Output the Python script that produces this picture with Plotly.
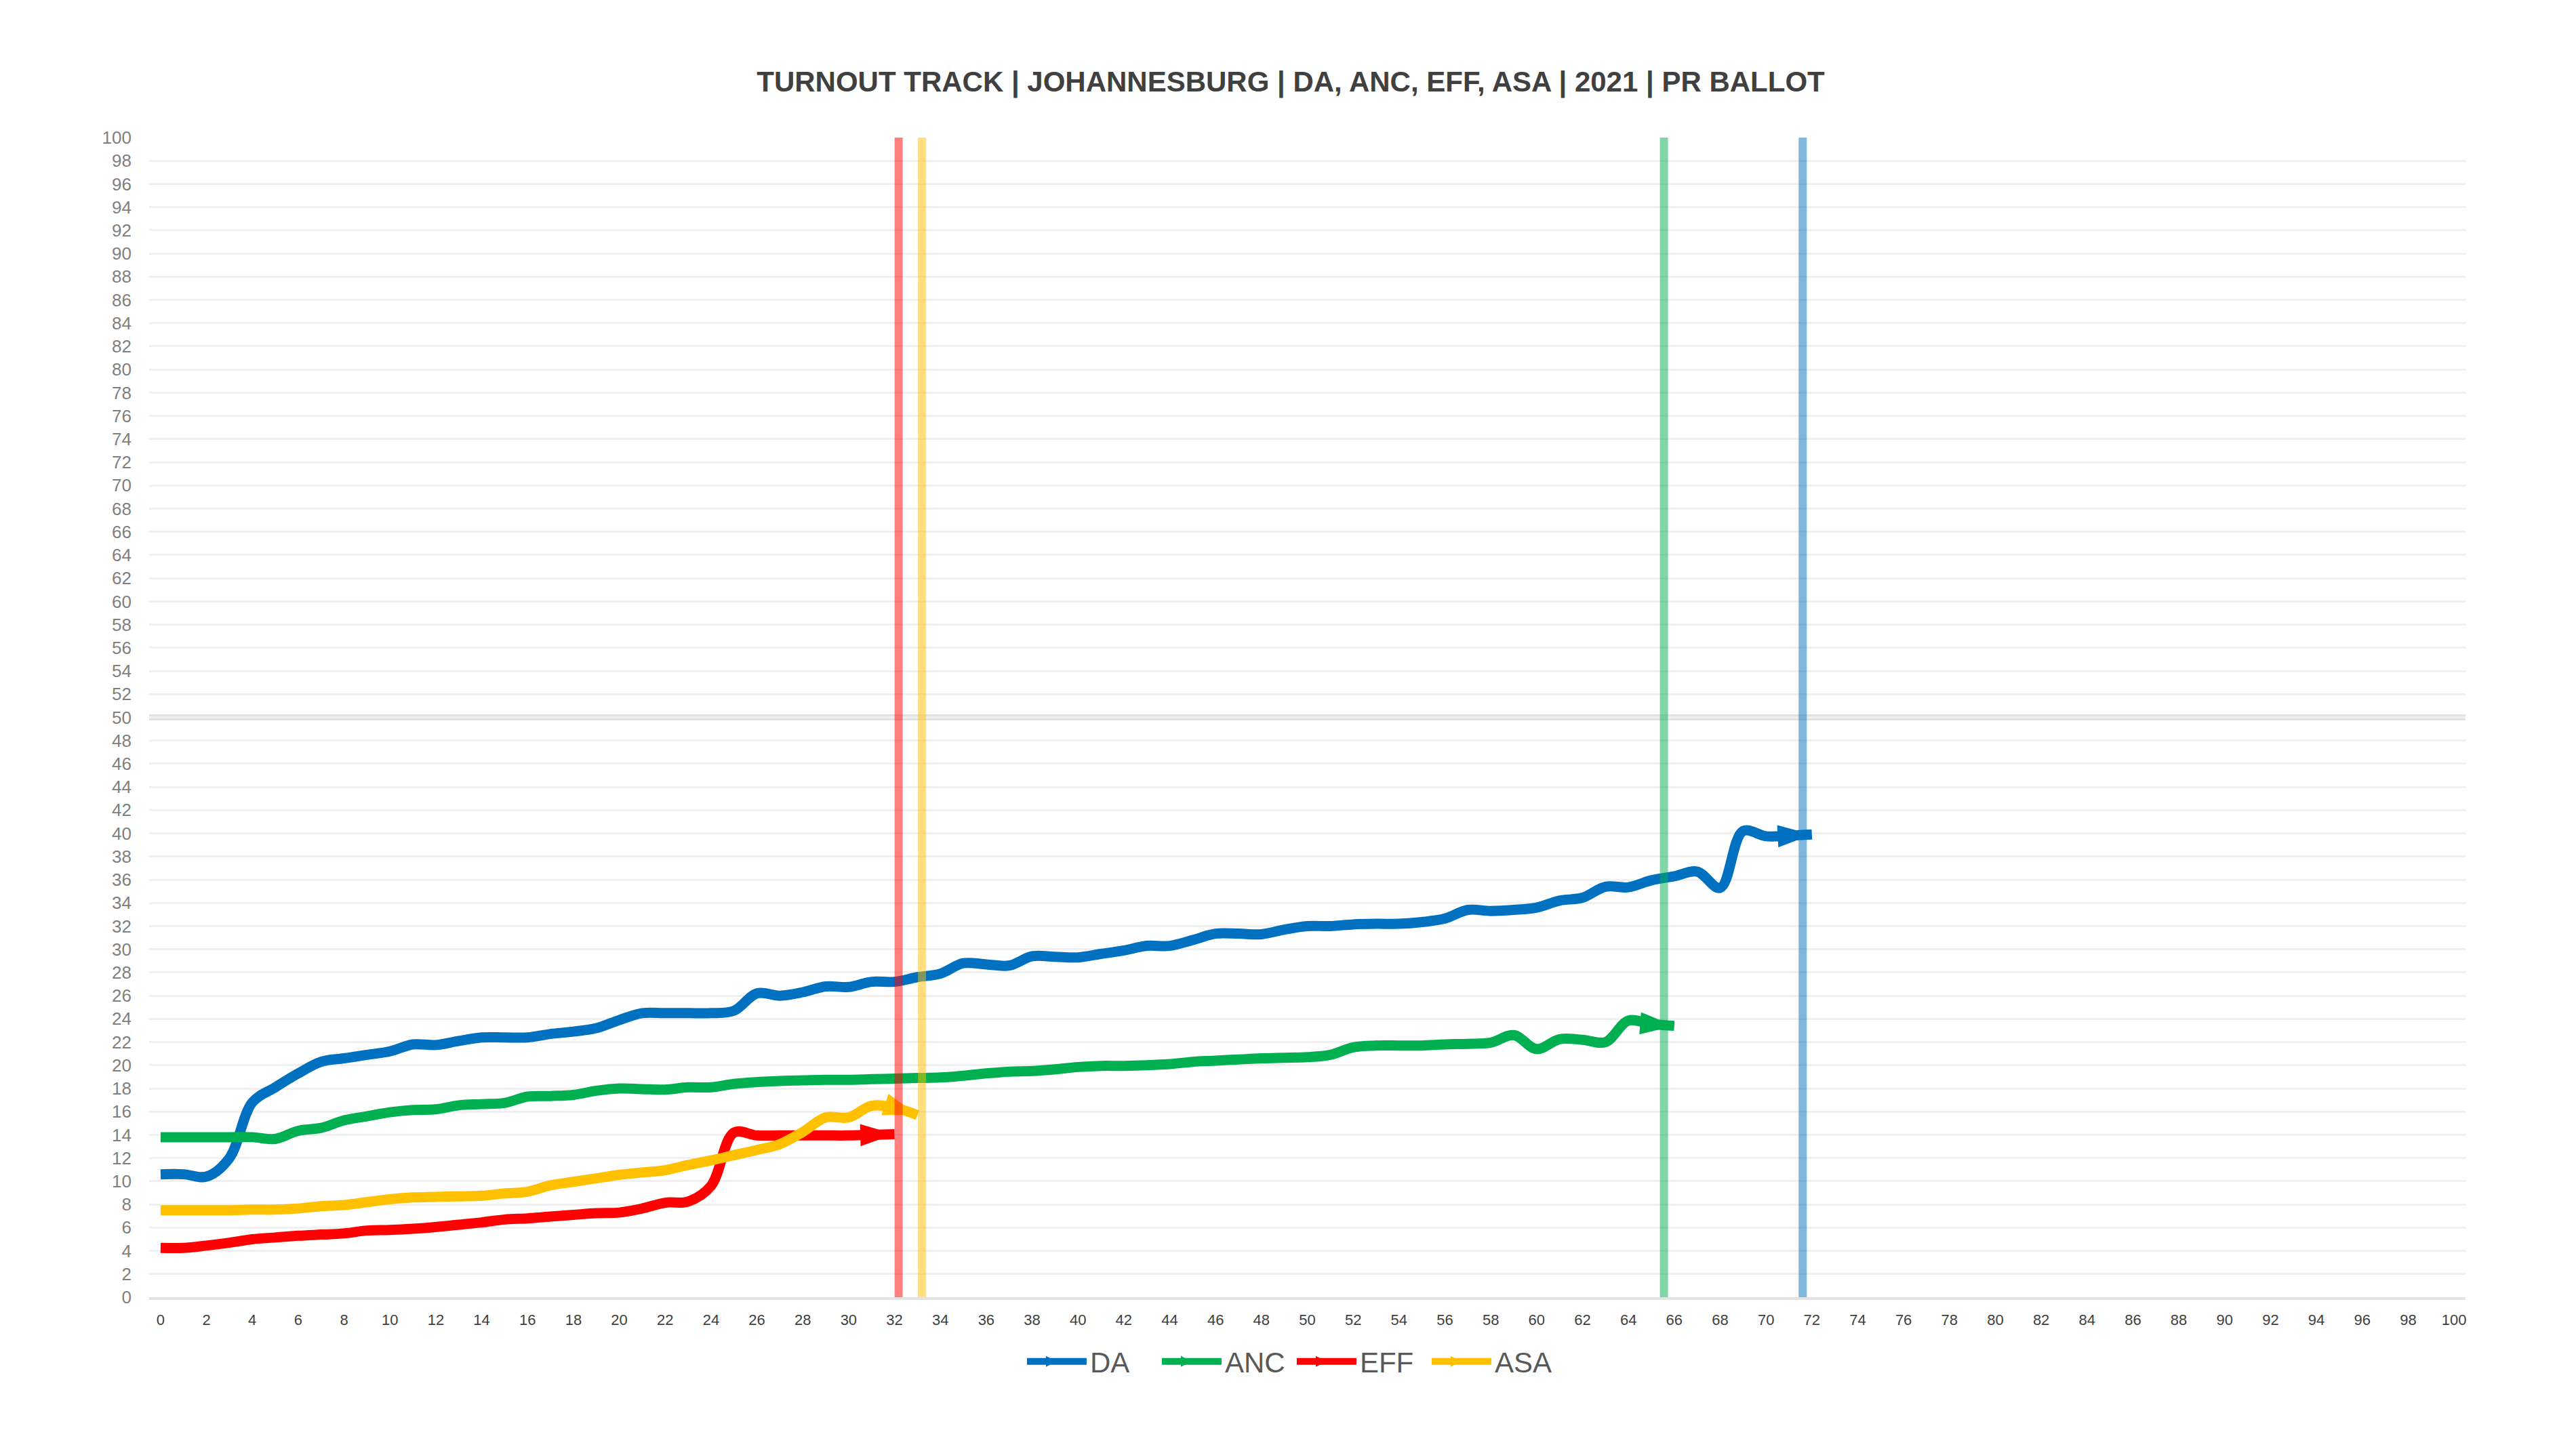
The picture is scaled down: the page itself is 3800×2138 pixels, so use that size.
import plotly.graph_objects as go

# ---------------- data ----------------
title_text = "TURNOUT TRACK | JOHANNESBURG | DA, ANC, EFF, ASA | 2021 | PR BALLOT"

parties = ["DA", "ANC", "EFF", "ASA"]
colors = ["#0070C0", "#00B050", "#FF0000", "#FFC000"]
marker_colors = ["rgba(0,112,192,0.5)", "rgba(0,176,80,0.5)", "rgba(255,0,0,0.5)", "rgba(255,192,0,0.5)"]

da = [10.6, 10.6, 10.4, 12.0, 16.8, 18.1, 19.3, 20.3, 20.6, 20.9,
      21.2, 21.8, 21.75, 22.1, 22.4, 22.4, 22.4, 22.7, 22.9, 23.2,
      23.9, 24.5, 24.5, 24.5, 24.5, 24.7, 26.2, 26.0, 26.3, 26.8,
      26.75, 27.2, 27.2, 27.6, 27.9, 28.8, 28.7, 28.6, 29.4, 29.35,
      29.3, 29.6, 29.9, 30.3, 30.3, 30.8, 31.35, 31.35, 31.3, 31.7,
      32.0, 32.0, 32.15, 32.2, 32.2, 32.35, 32.65, 33.4, 33.3, 33.4,
      33.6, 34.2, 34.45, 35.4, 35.35, 35.95, 36.3, 36.7, 35.3, 40.2,
      39.75, 39.8, 39.9]

anc = [13.8, 13.8, 13.8, 13.8, 13.8, 13.65, 14.35, 14.6, 15.25, 15.6,
       15.95, 16.15, 16.2, 16.55, 16.65, 16.75, 17.3, 17.35, 17.45, 17.8,
       18.0, 17.95, 17.9, 18.1, 18.1, 18.4, 18.55, 18.65, 18.7, 18.75,
       18.75, 18.8, 18.85, 18.9, 18.95, 19.1, 19.3, 19.45, 19.5, 19.65,
       19.85, 19.95, 19.95, 20.0, 20.1, 20.3, 20.4, 20.5, 20.6, 20.65,
       20.7, 20.9, 21.55, 21.7, 21.7, 21.7, 21.8, 21.85, 21.95, 22.6,
       21.4, 22.25, 22.2, 22.0, 23.85, 23.55, 23.4]

eff = [4.25, 4.25, 4.45, 4.7, 5.0, 5.15, 5.3, 5.4, 5.5, 5.75,
       5.8, 5.9, 6.05, 6.25, 6.45, 6.7, 6.8, 6.95, 7.1, 7.25,
       7.3, 7.65, 8.15, 8.25, 9.6, 14.2, 13.95, 13.95, 13.95, 13.95,
       13.95, 14.0, 14.05]

asa = [7.5, 7.5, 7.5, 7.5, 7.55, 7.55, 7.65, 7.85, 7.95, 8.2,
       8.45, 8.6, 8.65, 8.7, 8.75, 8.95, 9.1, 9.65, 9.95, 10.25,
       10.55, 10.75, 10.95, 11.4, 11.8, 12.25, 12.7, 13.2, 14.25, 15.5,
       15.5, 16.5, 16.35, 15.7]

series = [da, anc, eff, asa]

# projected finishing markers (vertical lines), in x units
projection_x = [71.6, 65.55, 32.18, 33.2]

majority_line = 50
x_ticks = list(range(0, 101, 2))
y_ticks = list(range(0, 101, 2))

# ---------------- figure ----------------
fig = go.Figure()

for name, vals, col in zip(parties, series, colors):
    xs = list(range(len(vals)))
    sizes = [0] * (len(vals) - 1) + [53]
    fig.add_trace(go.Scatter(
        x=xs, y=vals, mode="lines+markers", name=name,
        line=dict(color=col, width=15, shape="spline", smoothing=1.0),
        marker=dict(symbol="arrow", size=sizes, color=col, angleref="previous",
                    opacity=1, line=dict(width=0)),
        showlegend=False, legendgroup=name, hoverinfo="skip",
    ))

# legend entries
for name, col in zip(parties, colors):
    fig.add_trace(go.Scatter(
        x=[None], y=[None], mode="lines+markers", name=name,
        line=dict(color=col, width=10),
        marker=dict(symbol="arrow-right", size=16, color=col, opacity=1,
                    line=dict(width=0)),
        legendgroup=name, showlegend=True,
    ))

shapes = []
# majority line
shapes.append(dict(type="line", xref="paper", yref="y", x0=0, x1=1,
                   y0=majority_line, y1=majority_line,
                   line=dict(color="#E2E2E2", width=9), layer="between"))
for px, mc in zip(projection_x, marker_colors):
    shapes.append(dict(type="line", xref="x", yref="y", x0=px, x1=px, y0=0, y1=100,
                       line=dict(color=mc, width=12), layer="above"))

# page body has an 8px margin: size the figure to the window without it
W, H = 3792, 2130

fig.update_layout(
    width=W, height=H,
    paper_bgcolor="white", plot_bgcolor="white",
    margin=dict(l=212, r=163, t=195, b=224),
    title=dict(text=title_text, x=0.5, xanchor="center", y=1 - 112 / H,
               yanchor="middle", yref="container",
               font=dict(family="Liberation Sans, Arial, sans-serif", size=42,
                         color="#404040", weight="bold")),
    font=dict(family="Liberation Sans, Arial, sans-serif"),
    shapes=shapes,
    showlegend=True,
    legend=dict(orientation="h", x=0.3775, xanchor="left", y=-0.0555,
                yanchor="middle", font=dict(size=42, color="#595959"),
                itemwidth=88, entrywidth=96, entrywidthmode="pixels",
                bgcolor="rgba(0,0,0,0)"),
)

fig.update_xaxes(
    range=[-0.5, 100.5], tickmode="array", tickvals=x_ticks,
    ticktext=[str(v) for v in x_ticks], showgrid=False, zeroline=False,
    showline=True, linecolor="#E3E3E3", linewidth=4,
    ticks="", ticklabelstandoff=11,
    tickfont=dict(size=22, color="#404040"),
)
fig.update_yaxes(
    range=[0, 100], tickmode="array", tickvals=y_ticks,
    showgrid=True, gridcolor="#F0F0F0", gridwidth=3, zeroline=False,
    showline=False, ticks="", ticklabelstandoff=25,
    tickfont=dict(size=26, color="#7F7F7F"),
)

fig.write_html("out.html")
